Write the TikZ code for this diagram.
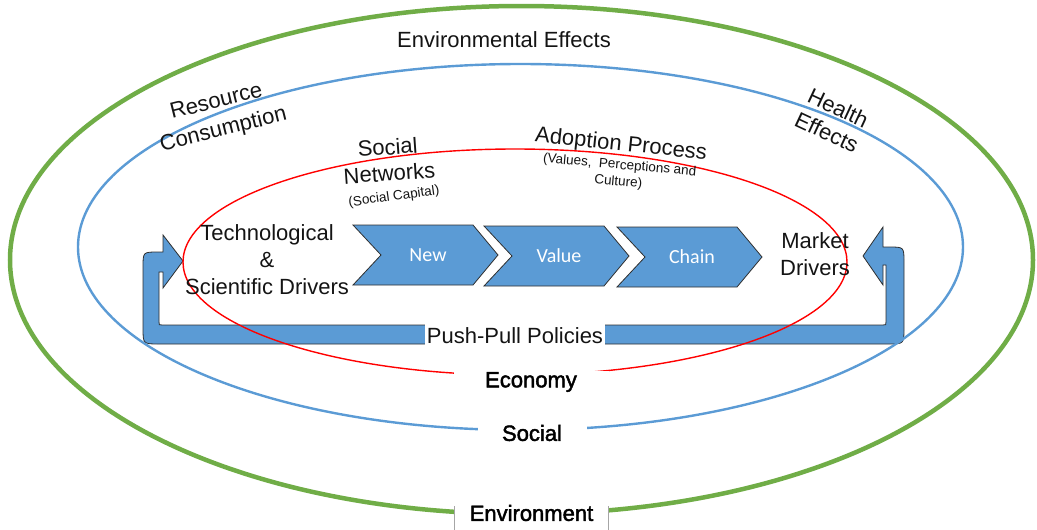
\documentclass[tikz,border=0pt]{standalone}
\usepackage{fontspec}
\setmainfont{Liberation Sans}
\newfontfamily\chevfont{Carlito}
\newfontfamily\heavyfont[FakeBold=2]{Liberation Sans}
\definecolor{envgreen}{HTML}{70AD47}
\definecolor{socblue}{HTML}{5B9BD5}
\definecolor{arrowblue}{HTML}{5B9BD5}
\definecolor{ecored}{HTML}{FF0000}
\definecolor{edgegray}{HTML}{2F2F2F}
\begin{document}
\begin{tikzpicture}[x=1pt,y=-1pt,
  lbl/.style={font=\fontsize{22}{26}\selectfont, inner sep=0pt, text=black!92},
  heavy/.style={font=\heavyfont\fontsize{22}{26}\selectfont, inner sep=0pt, text=black},
  note/.style={font=\fontsize{13.5}{16}\selectfont, inner sep=0pt, text=black!92},
  chevshape/.style={fill=arrowblue, draw=edgegray, line width=0.8pt, line join=miter},
  chevtext/.style={font=\chevfont\fontsize{20}{24}\selectfont, text=white, inner sep=0pt},
  gapbox/.style={fill=white, inner sep=0pt},
  sidegray/.style={draw=black!35, line width=0.7pt},
  chev/.pic={\path[chevshape] (0,0) -- (120,0) -- (145,30) -- (120,60) -- (0,60) -- (28,30) -- cycle;}
]
\useasboundingbox (0,0) rectangle (1037,530);

% push-pull loop arrow
\path[chevshape] (183,261) -- (163,235) -- (163,252) -- (158,252)
  .. controls (143,252) .. (143,267) -- (143,328)
  .. controls (143,344) .. (159,344) -- (888,344)
  .. controls (904,344) .. (904,328) -- (904,262)
  .. controls (904,247) .. (889,247) -- (883,247) -- (883,227)
  -- (863,256) -- (883,285) -- (883,265) -- (886,265) -- (886,322)
  .. controls (886,325) .. (883,325) -- (162,325)
  .. controls (159,325) .. (159,322) -- (159,272) -- (163,272) -- (163,288) -- cycle;

% rings
\draw[envgreen, line width=4.5pt] (521.5,260) ellipse [x radius=511.5pt, y radius=254pt];
\draw[socblue, line width=2.4pt] (520.5,247) ellipse [x radius=442.5pt, y radius=183pt];
\draw[ecored, line width=1.4pt] (515,262) ellipse [x radius=332pt, y radius=113pt];

% value chain
\pic at (353,225) {chev};
\pic at (484,226) {chev};
\pic at (617,227) {chev};
\node[chevtext] (new) at (428,255) {New};
\node[chevtext] (value) at (559,256) {Value};
\node[chevtext] (chain) at (692,257) {Chain};

% drivers
\node[lbl, align=center, font=\fontsize{22}{27}\selectfont] (tech) at (267,260) {Technological\\\&\\Scientific Drivers};
\node[lbl, align=center, font=\fontsize{22}{27}\selectfont] (market) at (815,254) {Market\\Drivers};

% policies label
\node[gapbox, lbl, minimum width=180pt, minimum height=28pt] (push) at (515,336) {Push-Pull Policies};

% ring labels
\node[gapbox, heavy, minimum width=155pt, minimum height=22pt] (eco) at (531,382) {Economy};
\node[gapbox, heavy, minimum width=109pt, minimum height=22pt] (soc) at (532,433) {Social};
\node[gapbox, heavy, minimum width=153pt, minimum height=40pt] (env) at (531.5,513) {Environment};
\draw[sidegray] (env.south west) -- ++(0,-27);
\draw[sidegray] (env.south east) -- ++(0,-27);

% effects
\node[lbl] (enveff) at (504,40) {Environmental Effects};
\node[lbl, align=center, rotate=14, font=\fontsize{22}{29}\selectfont] (res) at (220,116.5) {Resource\\Consumption};
\node[lbl, align=center, rotate=-25, font=\fontsize{22}{27}\selectfont] (hea) at (832.5,120) {Health\\Effects};

% social networks
\node[lbl, align=center, rotate=4, font=\fontsize{22}{26}\selectfont] (sn) at (388.5,160) {Social\\Networks};
\node[note, rotate=8] (snc) at (394,197) {(Social Capital)};

% adoption process
\node[lbl, rotate=-6] (ad1) at (621,145) {Adoption Process};
\node[note, align=center, rotate=-5, font=\fontsize{13.5}{17}\selectfont] (ad2) at (619,174) {(Values,\ \ Perceptions and\\Culture)};
\end{tikzpicture}
\end{document}
